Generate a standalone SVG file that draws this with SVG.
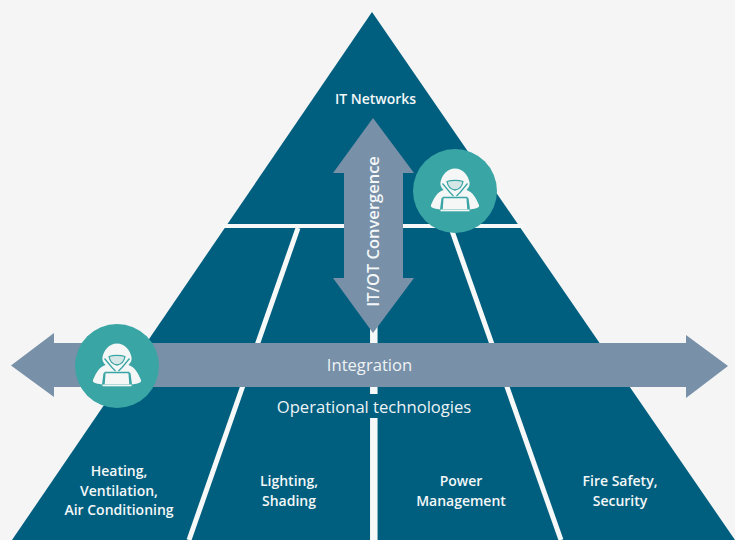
<svg xmlns="http://www.w3.org/2000/svg" width="735" height="540" viewBox="0 0 735 540">
<style>
.b{font-family:"Open Sans","Liberation Sans",sans-serif;font-weight:600;font-size:14px;fill:#f4f7f8;text-anchor:middle}
.r{font-family:"Open Sans","Liberation Sans",sans-serif;font-weight:400;font-size:16.600px;fill:#eef3f5;text-anchor:middle}
.sep{stroke:#f7f8f8;fill:none}
.arrow{fill:#7890a8}
.disc{fill:#3aa5a5}
.ic{fill:#f5f7f7}
.ln{fill:none;stroke:#3aa5a5;stroke-width:1.300;stroke-linejoin:round}
</style>
<defs>
<g id="hacker">
<path class="ic" d="M0,-22.500C-8,-22.500 -13,-16 -14.500,-9C-15,-6 -14,-3.500 -11.500,-1C-18,1 -21,7 -24,14C-24.800,16.500 -22,17.500 -15,18.500L-13.500,7L13.500,7L15,18.500C22,17.500 24.800,16.500 24,14C21,7 18,1 11.500,-1C14,-3.500 15,-6 14.500,-9C13,-16 8,-22.500 0,-22.500Z"/>
<path class="ic" d="M-10,-3L0,5L10,-3L13,7H-13Z"/>
<path class="ln" style="fill:#d5e6e6" d="M-8,-9.500C-4,-11 4,-11 8,-9.500C7,-4 3.500,-1.500 0,-1C-3.500,-1.500 -7,-4 -8,-9.500Z"/>
<path class="ln" d="M-12.500,-7.500L-5,1.500L-1.500,5M12.500,-7.500L5,1.500L1.500,5"/>
<path class="ic ln" style="fill:#f5f7f7" d="M-12,6.500H12L13,19H-13Z"/>
<rect class="ic" x="-14.500" y="18.500" width="29" height="1.800"/>
</g>
</defs>
<rect width="735" height="540" fill="#f5f5f5"/>
<g id="pyramid">
<polygon points="372,12 735,540 12,540" fill="#005f7f"/>
<path class="sep" stroke-width="4" d="M222,226H524"/>
<path class="sep" stroke-width="5" d="M298,228L189,540"/>
<path class="sep" stroke-width="5" d="M451,228L561,540"/>
<path class="sep" stroke-width="7.500" d="M373.800,228V394M373.800,418V540"/>
</g>
<g id="connectors">
<polygon id="integration-arrow" class="arrow" points="11,365.500 54,333 54,343 686,343 686,335 728,366 686,398 686,387 54,387 54,397"/>
<polygon id="convergence-arrow" class="arrow" points="373,118 414,173 403,173 403,278 414,278 373,333 333,278 344,278 344,173 333,173"/>
</g>
<g id="node-it-networks"><text class="b" x="375.500" y="104">IT Networks</text></g>
<g id="node-convergence-label"><text class="b" transform="translate(379,231.500) rotate(-90)" style="font-size:16.500px">IT/OT Convergence</text></g>
<g id="node-integration-label"><text class="r" x="369.500" y="371">Integration</text></g>
<g id="node-operational"><text class="r" x="374" y="413">Operational technologies</text></g>
<g id="node-hvac"><text class="b" x="119" y="476">Heating,</text><text class="b" x="119" y="496">Ventilation,</text><text class="b" x="119" y="515">Air Conditioning</text></g>
<g id="node-lighting"><text class="b" x="289" y="486">Lighting,</text><text class="b" x="289" y="506">Shading</text></g>
<g id="node-power"><text class="b" x="461" y="486">Power</text><text class="b" x="461" y="506">Management</text></g>
<g id="node-fire"><text class="b" x="620" y="486">Fire Safety,</text><text class="b" x="620" y="506">Security</text></g>
<g id="node-hacker-top"><circle class="disc" cx="455" cy="191" r="42"/><use href="#hacker" x="455" y="191"/></g>
<g id="node-hacker-left"><circle class="disc" cx="117" cy="366" r="42"/><use href="#hacker" x="117" y="366"/></g>
</svg>
